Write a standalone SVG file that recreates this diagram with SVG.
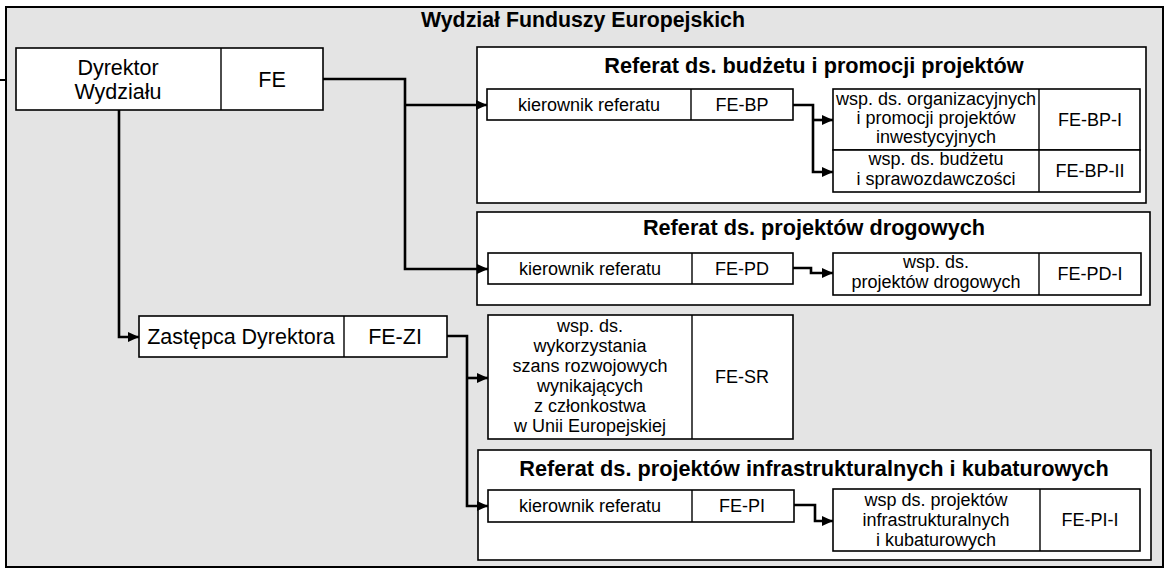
<svg xmlns="http://www.w3.org/2000/svg" width="1167" height="570" viewBox="0 0 1167 570">
<style>
text{font-family:"Liberation Sans",Arial,sans-serif;fill:#000}
.big{font-size:21.5px;text-anchor:middle}
.t{font-size:18px;text-anchor:middle}
.h{font-size:21.7px;font-weight:bold;text-anchor:middle}
.ttl{font-size:21.3px;font-weight:bold;text-anchor:middle}
.box{fill:#fff;stroke:#000;stroke-width:1.6}
.div{stroke:#000;stroke-width:1.4}
.panel{fill:#fff;stroke:#000;stroke-width:1.6}
.con{fill:none;stroke:#000;stroke-width:2.6;stroke-linejoin:miter}
</style>
<defs>
<marker id="arr" markerUnits="userSpaceOnUse" markerWidth="12" markerHeight="12" refX="11" refY="6" orient="auto">
<path d="M0,1 L11,6 L0,11 Z" fill="#000"/>
</marker>
</defs>
<rect id="frame" x="6" y="7" width="1157" height="560" fill="#e4e4e4" stroke="#000" stroke-width="2"/>
<line x1="0" y1="80" x2="6" y2="80" stroke="#000" stroke-width="2"/>
<text class="ttl" x="583" y="27">Wydział Funduszy Europejskich</text>

<g id="referat-bp">
<rect class="panel" x="477" y="47" width="669" height="156"/>
<text class="h" x="814" y="73">Referat ds. budżetu i promocji projektów</text>
</g>
<g id="referat-pd">
<rect class="panel" x="477" y="212" width="673" height="93"/>
<text class="h" x="814" y="235">Referat ds. projektów drogowych</text>
</g>
<g id="referat-pi">
<rect class="panel" x="478" y="450" width="673" height="110"/>
<text class="h" x="814" y="476">Referat ds. projektów infrastrukturalnych i kubaturowych</text>
</g>

<g id="connectors">
<path class="con" d="M323,79 H405 V269 H488" marker-end="url(#arr)"/>
<path class="con" d="M405,105 H487" marker-end="url(#arr)"/>
<path class="con" d="M119,110 V337 H139" marker-end="url(#arr)"/>
<path class="con" d="M793,105 H813 V172 H833" marker-end="url(#arr)"/>
<path class="con" d="M813,120 H833" marker-end="url(#arr)"/>
<path class="con" d="M793,268 H811 V273 H833" marker-end="url(#arr)"/>
<path class="con" d="M447,336 H467 V506 H488" marker-end="url(#arr)"/>
<path class="con" d="M467,378 H488" marker-end="url(#arr)"/>
<path class="con" d="M794,505 H815 V521 H833" marker-end="url(#arr)"/>
</g>

<g id="dyrektor">
<rect class="box" x="16" y="48" width="307" height="62"/>
<line class="div" x1="221" y1="48" x2="221" y2="110"/>
<text class="big" x="118" y="75">Dyrektor</text>
<text class="big" x="118" y="99">Wydziału</text>
<text class="big" x="272" y="87">FE</text>
</g>

<g id="kierownik-bp">
<rect class="box" x="487" y="89" width="306" height="31"/>
<line class="div" x1="691" y1="89" x2="691" y2="120"/>
<text class="t" x="589" y="111">kierownik referatu</text>
<text class="t" x="742" y="111">FE-BP</text>
</g>

<g id="wsp-bp-i">
<rect class="box" x="833" y="89" width="307" height="61"/>
<line class="div" x1="1039" y1="89" x2="1039" y2="150"/>
<text class="t" x="936" y="105">wsp. ds. organizacyjnych</text>
<text class="t" x="936" y="124">i promocji projektów</text>
<text class="t" x="936" y="143">inwestycyjnych</text>
<text class="t" x="1090" y="126">FE-BP-I</text>
</g>

<g id="wsp-bp-ii">
<rect class="box" x="833" y="150" width="307" height="42"/>
<line class="div" x1="1039" y1="150" x2="1039" y2="192"/>
<text class="t" x="936" y="165">wsp. ds. budżetu</text>
<text class="t" x="936" y="185">i sprawozdawczości</text>
<text class="t" x="1090" y="177">FE-BP-II</text>
</g>

<g id="kierownik-pd">
<rect class="box" x="488" y="253" width="305" height="31"/>
<line class="div" x1="692" y1="253" x2="692" y2="284"/>
<text class="t" x="590" y="275">kierownik referatu</text>
<text class="t" x="742" y="275">FE-PD</text>
</g>

<g id="wsp-pd-i">
<rect class="box" x="833" y="253" width="308" height="42"/>
<line class="div" x1="1039" y1="253" x2="1039" y2="295"/>
<text class="t" x="936" y="268">wsp. ds.</text>
<text class="t" x="936" y="288">projektów drogowych</text>
<text class="t" x="1090" y="280">FE-PD-I</text>
</g>

<g id="zastepca">
<rect class="box" x="139" y="316" width="308" height="41"/>
<line class="div" x1="344" y1="316" x2="344" y2="357"/>
<text class="big" x="241" y="344">Zastępca Dyrektora</text>
<text class="big" x="395" y="344">FE-ZI</text>
</g>

<g id="wsp-sr">
<rect class="box" x="488" y="315" width="305" height="124"/>
<line class="div" x1="692" y1="315" x2="692" y2="439"/>
<text class="t" x="590" y="332">wsp. ds.</text>
<text class="t" x="590" y="352">wykorzystania</text>
<text class="t" x="590" y="372">szans rozwojowych</text>
<text class="t" x="590" y="392">wynikających</text>
<text class="t" x="590" y="412">z członkostwa</text>
<text class="t" x="590" y="432">w Unii Europejskiej</text>
<text class="t" x="742" y="383">FE-SR</text>
</g>

<g id="kierownik-pi">
<rect class="box" x="488" y="490" width="306" height="32"/>
<line class="div" x1="692" y1="490" x2="692" y2="522"/>
<text class="t" x="590" y="512">kierownik referatu</text>
<text class="t" x="742" y="512">FE-PI</text>
</g>

<g id="wsp-pi-i">
<rect class="box" x="833" y="489" width="307" height="62"/>
<line class="div" x1="1040" y1="489" x2="1040" y2="551"/>
<text class="t" x="936" y="506">wsp ds. projektów</text>
<text class="t" x="936" y="526">infrastrukturalnych</text>
<text class="t" x="936" y="546">i kubaturowych</text>
<text class="t" x="1090" y="526">FE-PI-I</text>
</g>
</svg>
